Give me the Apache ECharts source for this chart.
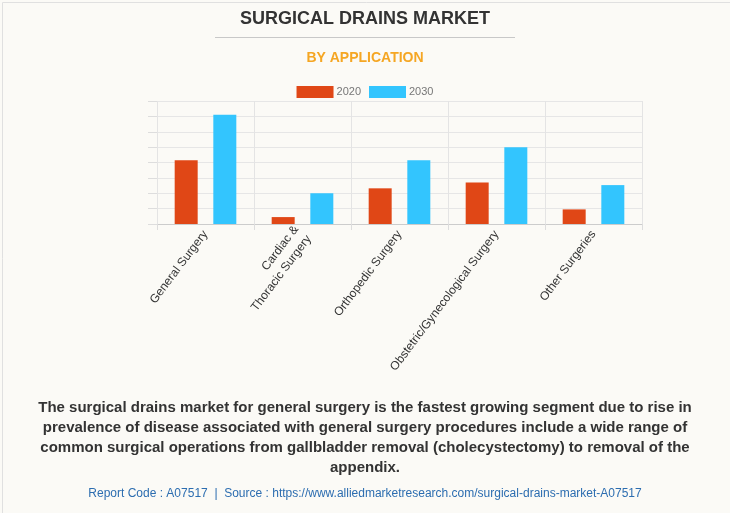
<!DOCTYPE html>
<html><head><meta charset="utf-8">
<script src="https://cdn.jsdelivr.net/npm/echarts@6/dist/echarts.min.js"></script>
<style>html,body{margin:0;padding:0;background:#fbfaf6;}#c{width:730px;height:513px;}</style>
</head><body><div id="c"></div>
<script>
const categories = ['General Surgery', 'Cardiac &\nThoracic Surgery', 'Orthopedic Surgery', 'Obstetric/Gynecological Surgery', 'Other Surgeries'];
const values2020 = [414, 45, 232, 270, 95];
const values2030 = [710, 200, 414, 500, 253];
const seriesNames = ['2020', '2030'];

const chart = echarts.init(document.getElementById('c'), null, {renderer: 'canvas'});
chart.setOption({
  backgroundColor: '#fbfaf6',
  animation: false,
  legend: {
    data: seriesNames, top: 81, left: 'center', icon: 'rect', itemWidth: 37, itemHeight: 12, itemGap: 8,
    textStyle: {color: '#777', fontSize: 11, fontFamily: 'Liberation Sans', padding: [0, 0, 0, -2]}
  },
  grid: {left: 157, right: 88, top: 101, bottom: 289},
  xAxis: {
    type: 'category', data: categories,
    axisLine: {lineStyle: {color: '#cccccc'}},
    axisTick: {show: true, length: 6, lineStyle: {color: '#dddddd'}},
    splitLine: {show: true, lineStyle: {color: '#e4e4e4'}},
    axisLabel: {rotate: 53, color: '#333', fontSize: 12, fontFamily: 'Liberation Sans', interval: 0, margin: 8, lineHeight: 16}
  },
  yAxis: {
    type: 'value', min: 0, max: 800, interval: 100,
    axisLine: {show: false},
    axisTick: {show: true, length: 9, lineStyle: {color: '#dddddd'}},
    axisLabel: {show: false},
    splitLine: {lineStyle: {color: '#e6e6e6'}}
  },
  series: [
    {name: '2020', type: 'bar', data: values2020, barWidth: 23, barGap: '68%', itemStyle: {color: '#e04716'}},
    {name: '2030', type: 'bar', data: values2030, barWidth: 23, itemStyle: {color: '#33c5fe'}}
  ],
  graphic: [
    {type: 'rect', left: 0, top: 0, shape: {width: 729, height: 512}, style: {fill: 'none', stroke: '#e0e0e0', lineWidth: 1}, silent: true},
    {type: 'text', left: 'center', top: 10, style: {text: 'SURGICAL DRAINS MARKET', font: 'bold 18px "Liberation Sans"', fill: '#333'}},
    {type: 'line', shape: {x1: 215, y1: 37.5, x2: 515, y2: 37.5}, style: {stroke: '#c8c8c8', lineWidth: 1}},
    {type: 'text', left: 'center', top: 51, style: {text: 'BY APPLICATION', font: 'bold 14px "Liberation Sans"', fill: '#f5a623'}},
    {type: 'text', x: 365, y: 398, style: {
      text: 'The surgical drains market for general surgery is the fastest growing segment due to rise in\nprevalence of disease associated with general surgery procedures include a wide range of\ncommon surgical operations from gallbladder removal (cholecystectomy) to removal of the\nappendix.',
      font: 'bold 15px "Liberation Sans"', fill: '#333', textAlign: 'center', align: 'center', lineHeight: 20}},
    {type: 'text', left: 'center', top: 488, style: {
      text: 'Report Code : A07517  |  Source : https://www.alliedmarketresearch.com/surgical-drains-market-A07517',
      font: '12px "Liberation Sans"', fill: '#2c6db0'}}
  ]
});
</script></body></html>
